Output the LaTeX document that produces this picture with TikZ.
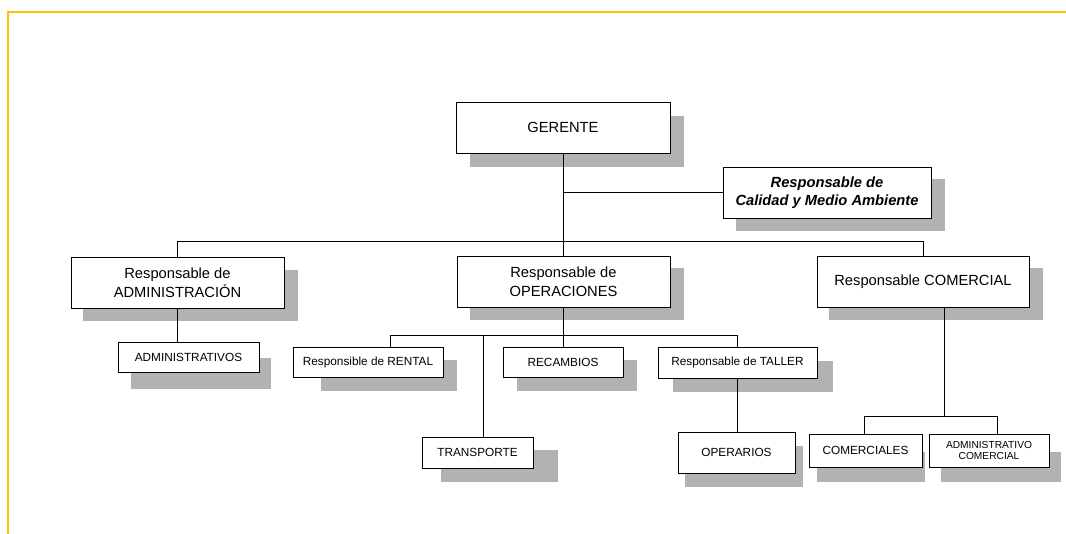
\documentclass[tikz,border=0pt]{standalone}
\usepackage{fontspec}
\setmainfont{Liberation Sans}
\usepackage{tikz}
\definecolor{borde}{HTML}{FFC000}
\definecolor{sombra}{HTML}{B2B2B2}

\begin{document}
\begin{tikzpicture}[x=1pt,y=-1pt]
  \tikzset{caja/.style = {shape=rectangle,draw,fill=white,line width=0.9pt,inner sep=1pt,align=center}}
  \tikzset{grande/.style = {caja,minimum height=51pt,font=\fontsize{14.7}{18.5}\selectfont}}
  \tikzset{chica/.style = {caja,minimum height=30pt,font=\fontsize{11.8}{14}\selectfont}}
  \tikzset{linea/.style = {line width=0.9pt}}

  \useasboundingbox (0,0) rectangle (1066,534);
  \draw[borde,line width=2.5pt] (8,534) -- (8,12) -- (1066,12);

  \foreach \xa/\ya/\xb/\yb in {470/116/684/167, 736/179/945/231, 83/270/298/321,
      470/268/684/320, 829/268/1043/320, 131/358/271/389, 321/360/457/391,
      517/360/637/391, 673/361/833/392, 441/450/558/482, 685/446/803/487,
      817/452/925/482, 941/452/1061/482}
    \fill[sombra] (\xa,\ya) rectangle (\xb,\yb);

	\node[grande,minimum width=214pt] (ger) at (563,127.5) {GERENTE};
	\node[grande,minimum width=208pt,font=\fontsize{14.7}{18}\selectfont\bfseries\itshape] (cal) at (827,192.5) {Responsable de\\Calidad y Medio Ambiente};
	\node[grande,minimum width=213pt] (adm) at (177.5,282.5) {Responsable de\\ADMINISTRACIÓN};
	\node[grande,minimum width=213pt] (ope) at (563.5,281.5) {Responsable de\\OPERACIONES};
	\node[grande,minimum width=212pt] (com) at (923,281.5) {Responsable COMERCIAL};
	\node[chica,minimum width=141pt] (adt) at (188.5,357) {ADMINISTRATIVOS};
	\node[chica,minimum width=150pt] (ren) at (368,362) {Responsible de RENTAL};
	\node[chica,minimum width=120pt] (rec) at (563,362) {RECAMBIOS};
	\node[chica,minimum width=159pt,minimum height=31pt] (tal) at (737.5,362.5) {Responsable de TALLER};
	\node[chica,minimum width=111pt,minimum height=31pt] (tra) at (477.5,452.5) {TRANSPORTE};
	\node[chica,minimum width=117pt,minimum height=41pt] (opr) at (736.5,452.5) {OPERARIOS};
	\node[chica,minimum width=113pt,minimum height=33pt] (cms) at (865.5,450.5) {COMERCIALES};
	\node[chica,minimum width=120pt,minimum height=33pt,font=\fontsize{10.2}{11}\selectfont] (adc) at (989,450.5) {ADMINISTRATIVO\\COMERCIAL};

  \coordinate (opbus) at (563.5,335);
  \coordinate (cobus) at (944,416);

  \draw[linea] (ger.south) -- (ger.south |- ope.north);
  \draw[linea] (cal.west) -- (cal.west -| ger.south);
  \draw[linea] (adm.north) -- ++(0,-15) -| (com.north);
  \draw[linea] (ope.south) -- (opbus);
  \draw[linea] ([xshift=21pt]com.south) -- (cobus);

       \foreach \from/\to in {adm.south/adt.north, tal.south/opr.north}
    \draw[linea] (\from) -- (\from |- \to);
       \foreach \hijo/\dx in {ren/22pt, tra/5.5pt, rec/0pt, tal/0pt}
    \draw[linea] ([xshift=\dx]\hijo.north) |- (opbus);
       \foreach \hijo/\dx in {cms/-1.5pt, adc/8pt}
    \draw[linea] ([xshift=\dx]\hijo.north) |- (cobus);
\end{tikzpicture}
\end{document}
